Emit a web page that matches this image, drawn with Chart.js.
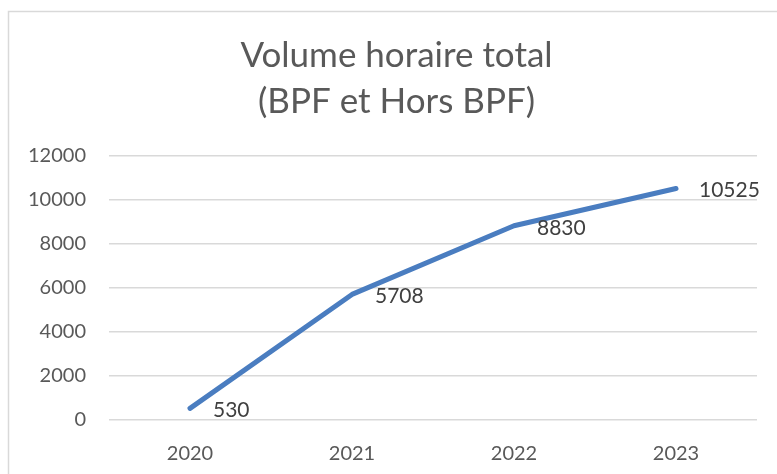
<!DOCTYPE html>
<html>
<head>
<meta charset="utf-8">
<script src="https://cdn.jsdelivr.net/npm/chart.js@4"></script>
<style>
  html, body { margin: 0; padding: 0; background: #fff; overflow: hidden; }
  canvas { display: block; }
</style>
</head>
<body>
<canvas id="volumeChart" width="777" height="474"></canvas>
<script>
// Data
const years = ['2020', '2021', '2022', '2023'];
const volumes = [530, 5708, 8830, 10525];
const yTicks = [0, 2000, 4000, 6000, 8000, 10000, 12000];

const FONT = 'Lato, "Open Sans", sans-serif';

// Light grey frame like the Excel chart area
const framePlugin = {
    id: 'frame',
    afterLayout(chart) {
        // nudge the title centre to the right, like in the Excel export
        if (chart.titleBlock) chart.titleBlock.left = 36;
    },
    beforeDraw(chart) {
        const ctx = chart.ctx;
        ctx.save();
        ctx.strokeStyle = '#d9d9d9';
        ctx.lineWidth = 1.5;
        ctx.strokeRect(8.5, 11.5, chart.width + 20, chart.height + 20);
        ctx.restore();
    }
};

// Value labels to the right of each point
const valueLabels = {
    id: 'valueLabels',
    afterDatasetsDraw(chart) {
        const ctx = chart.ctx;
        const meta = chart.getDatasetMeta(0);
        ctx.save();
        ctx.font = '21px ' + FONT;
        ctx.fillStyle = '#404040';
        ctx.textAlign = 'left';
        ctx.textBaseline = 'middle';
        meta.data.forEach((pt, i) => {
            ctx.fillText(String(volumes[i]), pt.x + 23, pt.y + 2);
        });
        ctx.restore();
    }
};

const ctx = document.getElementById('volumeChart').getContext('2d');
new Chart(ctx, {
    type: 'line',
    data: {
        labels: years,
        datasets: [{
            data: volumes,
            borderColor: '#4a7dc0',
            borderWidth: 5,
            borderCapStyle: 'round',
            borderJoinStyle: 'round',
            pointRadius: 0,
            tension: 0,
            fill: false
        }]
    },
    options: {
        responsive: false,
        animation: false,
        layout: {
            padding: { left: 0, right: 20, top: 0, bottom: 8 }
        },
        plugins: {
            legend: { display: false },
            tooltip: { enabled: false },
            title: {
                display: true,
                text: ['Volume horaire total', '(BPF et Hors BPF)'],
                color: '#595959',
                font: { family: FONT, size: 35, weight: 'normal', lineHeight: 1.3 },
                padding: { top: 33, bottom: 32 }
            }
        },
        scales: {
            x: {
                offset: true,
                afterFit(scale) {
                    scale.height = 46;
                },
                grid: { display: false, drawTicks: false },
                border: { display: false },
                ticks: {
                    color: '#595959',
                    font: { family: FONT, size: 20 },
                    padding: 22
                }
            },
            y: {
                min: 0,
                max: 12000,
                afterBuildTicks(scale) {
                    scale.ticks = yTicks.map(v => ({ value: v }));
                },
                afterFit(scale) {
                    scale.width = 109;
                },
                grid: { color: '#d9d9d9', lineWidth: 1.5, drawTicks: false },
                border: { display: false },
                ticks: {
                    color: '#595959',
                    font: { family: FONT, size: 20 },
                    padding: 23,
                    callback: (v) => String(v)
                }
            }
        }
    },
    plugins: [framePlugin, valueLabels]
});
</script>
</body>
</html>
